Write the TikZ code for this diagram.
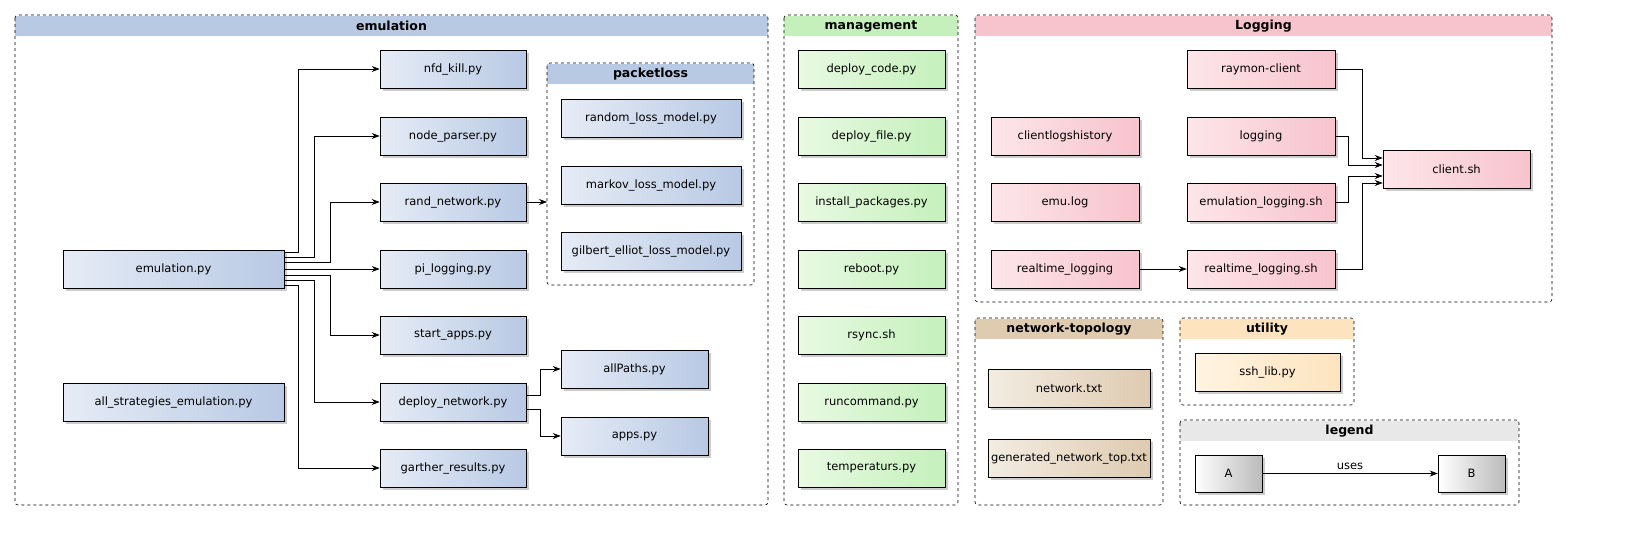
\documentclass[tikz,border=0pt]{standalone}
\usepackage{fontspec}
\setmainfont{DejaVu Sans}
\usetikzlibrary{arrows.meta}
\definecolor{bA}{HTML}{E6ECF6}\definecolor{bB}{HTML}{B8C9E4}
\definecolor{gA}{HTML}{E8FAE2}\definecolor{gB}{HTML}{C5F0BC}
\definecolor{pA}{HTML}{FDE6EA}\definecolor{pB}{HTML}{F7C3CD}
\definecolor{tA}{HTML}{F3ECE2}\definecolor{tB}{HTML}{DECBB0}
\definecolor{uA}{HTML}{FFF4E2}\definecolor{uB}{HTML}{FDE4BE}
\definecolor{lA}{HTML}{FFFFFF}\definecolor{lB}{HTML}{BBBBBB}
\definecolor{hL}{HTML}{E8E8E8}
\tikzset{
 box/.style={draw=black,line width=0.6pt,inner sep=0pt,preaction={fill=black!20,transform canvas={shift={(2.5pt,-2.5pt)}}},font=\fontsize{11.5}{13}\selectfont},
 blu/.style={box,left color=bA,right color=bB},
 grn/.style={box,left color=gA,right color=gB},
 pnk/.style={box,left color=pA,right color=pB},
 tan/.style={box,left color=tA,right color=tB},
 utl/.style={box,left color=uA,right color=uB},
 lgd/.style={box,left color=lA,right color=lB},
 frame/.style={draw=black,dashed,line width=0.6pt,rounded corners=3pt},
 head/.style={font=\bfseries\fontsize{12.5}{14}\selectfont},
 edge/.style={draw=black,line width=0.7pt,-{Stealth[length=8pt,width=6pt]}},
}
\newcommand{\bx}[7]{\node[#6,minimum width={#4-#2},minimum height={#5-#3}] (#1) at ({(#2+#4)/2},{(#3+#5)/2}) {#7};}
\newcommand{\frm}[7]{%
 \fill[#6] (#2,#3+1) rectangle (#4,#3+21);
 \draw[frame] (#2,#3) rectangle (#4,#5);
 \node[head] (#1) at ({(#2+#4)/2},#3+11) {#7};}
\begin{document}
\begin{tikzpicture}[x=1pt,y=-1pt]
\useasboundingbox (0,0) rectangle (1625,541);
\frm{femu}{15}{15}{768}{505}{bB}{emulation}
\frm{fman}{784}{15}{958}{505}{gB}{management}
\frm{flog}{975}{15}{1552}{302}{pB}{Logging}
\frm{fnet}{975}{318}{1163}{505}{tB}{network-topology}
\frm{futl}{1180}{318}{1354}{405}{uB}{utility}
\frm{flgd}{1180}{420}{1519}{505}{hL}{legend}
\frm{fpkt}{547}{63}{754}{285}{bB}{packetloss}
\coordinate (pktin) at (547,202);
% emulation
\bx{emu}{63}{250}{284}{288}{blu}{emulation.py}
\bx{alls}{63}{383}{284}{421}{blu}{all\_strategies\_emulation.py}
\bx{nfd}{380}{50}{526}{88}{blu}{nfd\_kill.py}
\bx{np}{380}{117}{526}{155}{blu}{node\_parser.py}
\bx{rn}{380}{183}{526}{221}{blu}{rand\_network.py}
\bx{pil}{380}{250}{526}{288}{blu}{pi\_logging.py}
\bx{sa}{380}{316}{526}{354}{blu}{start\_apps.py}
\bx{dn}{380}{383}{526}{421}{blu}{deploy\_network.py}
\bx{gr}{380}{449}{526}{487}{blu}{garther\_results.py}
\bx{rlm}{561}{99}{741}{137}{blu}{random\_loss\_model.py}
\bx{mlm}{561}{166}{741}{204}{blu}{markov\_loss\_model.py}
\bx{glm}{561}{232}{741}{270}{blu}{gilbert\_elliot\_loss\_model.py}
\bx{ap}{561}{350}{708}{388}{blu}{allPaths.py}
\bx{apps}{561}{417}{708}{455}{blu}{apps.py}
% management
\bx{m1}{798}{50}{945}{88}{grn}{deploy\_code.py}
\bx{m2}{798}{117}{945}{155}{grn}{deploy\_file.py}
\bx{m3}{798}{183}{945}{221}{grn}{install\_packages.py}
\bx{m4}{798}{250}{945}{288}{grn}{reboot.py}
\bx{m5}{798}{316}{945}{354}{grn}{rsync.sh}
\bx{m6}{798}{383}{945}{421}{grn}{runcommand.py}
\bx{m7}{798}{449}{945}{487}{grn}{temperaturs.py}
% logging
\bx{ray}{1187}{50}{1335}{88}{pnk}{raymon-client}
\bx{lg}{1187}{117}{1335}{155}{pnk}{logging}
\bx{el}{1187}{183}{1335}{221}{pnk}{emulation\_logging.sh}
\bx{rls}{1187}{250}{1335}{288}{pnk}{realtime\_logging.sh}
\bx{clh}{991}{117}{1139}{155}{pnk}{clientlogshistory}
\bx{eml}{991}{183}{1139}{221}{pnk}{emu.log}
\bx{rl}{991}{250}{1139}{288}{pnk}{realtime\_logging}
\bx{cl}{1383}{150}{1530}{188}{pnk}{client.sh}
% others
\bx{nt}{988}{369}{1150}{407}{tan}{network.txt}
\bx{gnt}{988}{439}{1150}{477}{tan}{generated\_network\_top.txt}
\bx{ssh}{1195}{353}{1340}{391}{utl}{ssh\_lib.py}
\bx{la}{1195}{455}{1262}{492}{lgd}{A}
\bx{lb}{1438}{455}{1505}{492}{lgd}{B}
% edges
\draw[edge] (emu.east|-0,252) -| (298,69) -- (nfd.west);
\draw[edge] (emu.east|-0,257) -| (314,136) -- (np.west);
\draw[edge] (emu.east|-0,262) -| (330,202) -- (rn.west);
\draw[edge] (emu.east) -- (pil.west);
\draw[edge] (emu.east|-0,275) -| (330,335) -- (sa.west);
\draw[edge] (emu.east|-0,280) -| (314,402) -- (dn.west);
\draw[edge] (emu.east|-0,285) -| (298,468) -- (gr.west);
\draw[edge] (rn.east) -- (pktin);
\draw[edge] (dn.east|-0,395) -| (540,369) -- (ap.west);
\draw[edge] (dn.east|-0,409) -| (540,436) -- (apps.west);
\draw[edge] (ray.east) -| (1362,158) -- (cl.west|-0,158);
\draw[edge] (lg.east) -| (1348,165) -- (cl.west|-0,165);
\draw[edge] (el.east) -| (1348,176) -- (cl.west|-0,176);
\draw[edge] (rls.east) -| (1362,183) -- (cl.west|-0,183);
\draw[edge] (rl.east) -- (rls.west);
\draw[edge] (la.east) -- node[above,font=\fontsize{11.5}{13}\selectfont]{uses} (lb.west);
\end{tikzpicture}
\end{document}
